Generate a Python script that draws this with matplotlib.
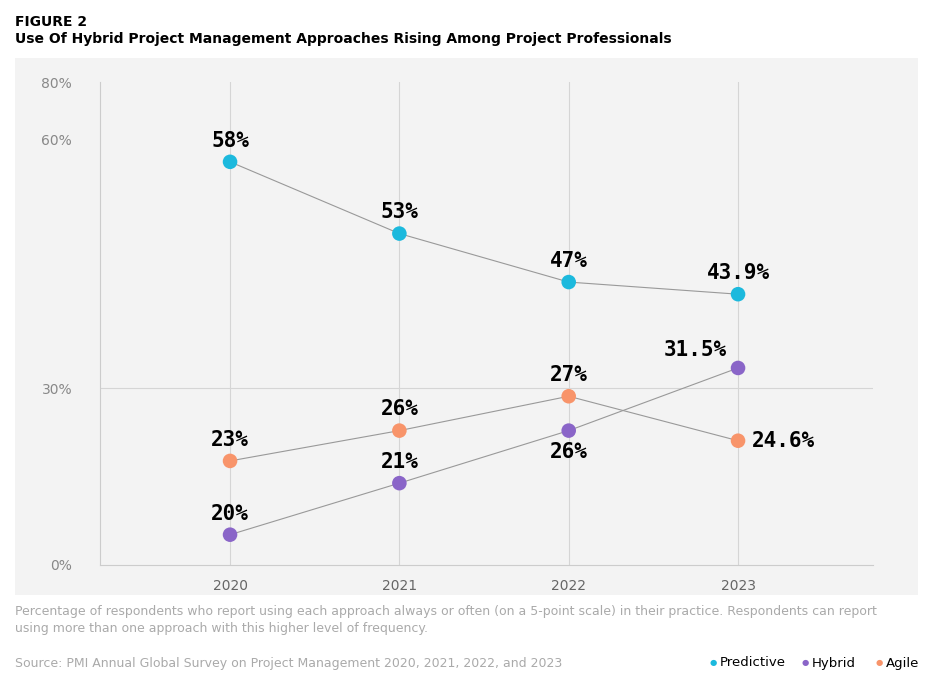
import numpy as np
import matplotlib
matplotlib.use('Agg')
import matplotlib.pyplot as plt

years = [2020, 2021, 2022, 2023]
predictive = [58, 53, 47, 43.9]
hybrid = [20, 21, 26, 31.5]
agile = [23, 26, 27, 24.6]
pred_labels = ['58%', '53%', '47%', '43.9%']
hyb_labels = ['20%', '21%', '26%', '31.5%']
agi_labels = ['23%', '26%', '27%', '24.6%']
yticks = [0, 30, 60, 80]

# the source chart uses an uneven vertical scale; piecewise mapping of it
scale_vals = np.array([0, 20, 21, 23, 24.6, 26, 27, 30, 31.5, 43.9, 47, 53, 58, 60, 80])
scale_h = np.array([5, 35, 86, 108, 128, 138, 172, 180, 200, 273, 285, 333, 404, 426, 483])

def fwd(v):
    return np.interp(v, scale_vals, scale_h)

def inv(h):
    return np.interp(h, scale_h, scale_vals)

c_pred = '#1cb9dd'
c_hyb = '#8a65c8'
c_agi = '#f8946a'

fig = plt.figure(figsize=(9.33, 6.86), dpi=100)
bg = fig.add_axes([15/933, 1-595/686, 903/933, 537/686], zorder=-1)
bg.set_facecolor('#f3f3f3')
bg.set_xticks([])
bg.set_yticks([])
for s in bg.spines.values():
    s.set_visible(False)

ax = fig.add_axes([100/933, 1-565/686, 773/933, 483/686])
ax.set_facecolor('none')
ax.set_yscale('function', functions=(fwd, inv))
ax.set_ylim(0, 80)
ax.set_xlim(2019.232, 2023.797)

for s in ['top', 'right']:
    ax.spines[s].set_visible(False)
for s in ['left', 'bottom']:
    ax.spines[s].set_color('#cccccc')
ax.set_yticks(yticks)
ax.set_yticklabels([f'{t}%' for t in yticks], color='#888888', fontsize=10)
ax.set_xticks(years)
ax.set_xticklabels([str(y) for y in years], color='#666666', fontsize=10)
ax.tick_params(length=0, pad=10)
ax.tick_params(axis='y', pad=20)
for y in years:
    ax.axvline(y, color='#d5d5d5', lw=0.8, zorder=1)
ax.axhline(30, color='#d5d5d5', lw=0.8, zorder=1)

for vals, col in [(predictive, c_pred), (hybrid, c_hyb), (agile, c_agi)]:
    ax.plot(years, vals, color='#999999', lw=0.8, zorder=2)
    ax.scatter(years, vals, s=110, color=col, zorder=3, edgecolors='none')

lab = dict(fontsize=15, fontweight='bold', family='DejaVu Sans Mono', color='black')
for x, v, t in zip(years, predictive, pred_labels):
    ax.annotate(t, (x, v), xytext=(0, 8), textcoords='offset points', ha='center', va='bottom', **lab)
for x, v, t in zip(years, agile, agi_labels):
    if x == 2023:
        ax.annotate(t, (x, v), xytext=(10, 0), textcoords='offset points', ha='left', va='center', **lab)
    else:
        ax.annotate(t, (x, v), xytext=(0, 8), textcoords='offset points', ha='center', va='bottom', **lab)
for x, v, t in zip(years, hybrid, hyb_labels):
    if x == 2022:
        ax.annotate(t, (x, v), xytext=(0, -8), textcoords='offset points', ha='center', va='top', **lab)
    elif x == 2023:
        ax.annotate(t, (x, v), xytext=(-8, 6), textcoords='offset points', ha='right', va='bottom', **lab)
    else:
        ax.annotate(t, (x, v), xytext=(0, 8), textcoords='offset points', ha='center', va='bottom', **lab)

fig.text(15/933, 1-22/686, 'FIGURE 2', fontsize=10, fontweight='bold', va='center')
fig.text(15/933, 1-39/686, 'Use Of Hybrid Project Management Approaches Rising Among Project Professionals',
         fontsize=10, fontweight='bold', va='center')
fig.text(15/933, 1-620/686, 'Percentage of respondents who report using each approach always or often (on a 5-point scale) in their practice. Respondents can report\nusing more than one approach with this higher level of frequency.',
         fontsize=9, color='#aaaaaa', va='center', linespacing=1.4)
fig.text(15/933, 1-663/686, 'Source: PMI Annual Global Survey on Project Management 2020, 2021, 2022, and 2023',
         fontsize=9, color='#aaaaaa', va='center')

x0 = 710
for name, col, w in [('Predictive', c_pred, 78), ('Hybrid', c_hyb, 60), ('Agile', c_agi, 45)]:
    fig.text(x0/933, 1-663/686, '●', color=col, fontsize=6, va='center')
    fig.text((x0 + 10)/933, 1-663/686, name, fontsize=9.5, va='center')
    x0 += w + 14

fig.savefig('out.png', dpi=100)
